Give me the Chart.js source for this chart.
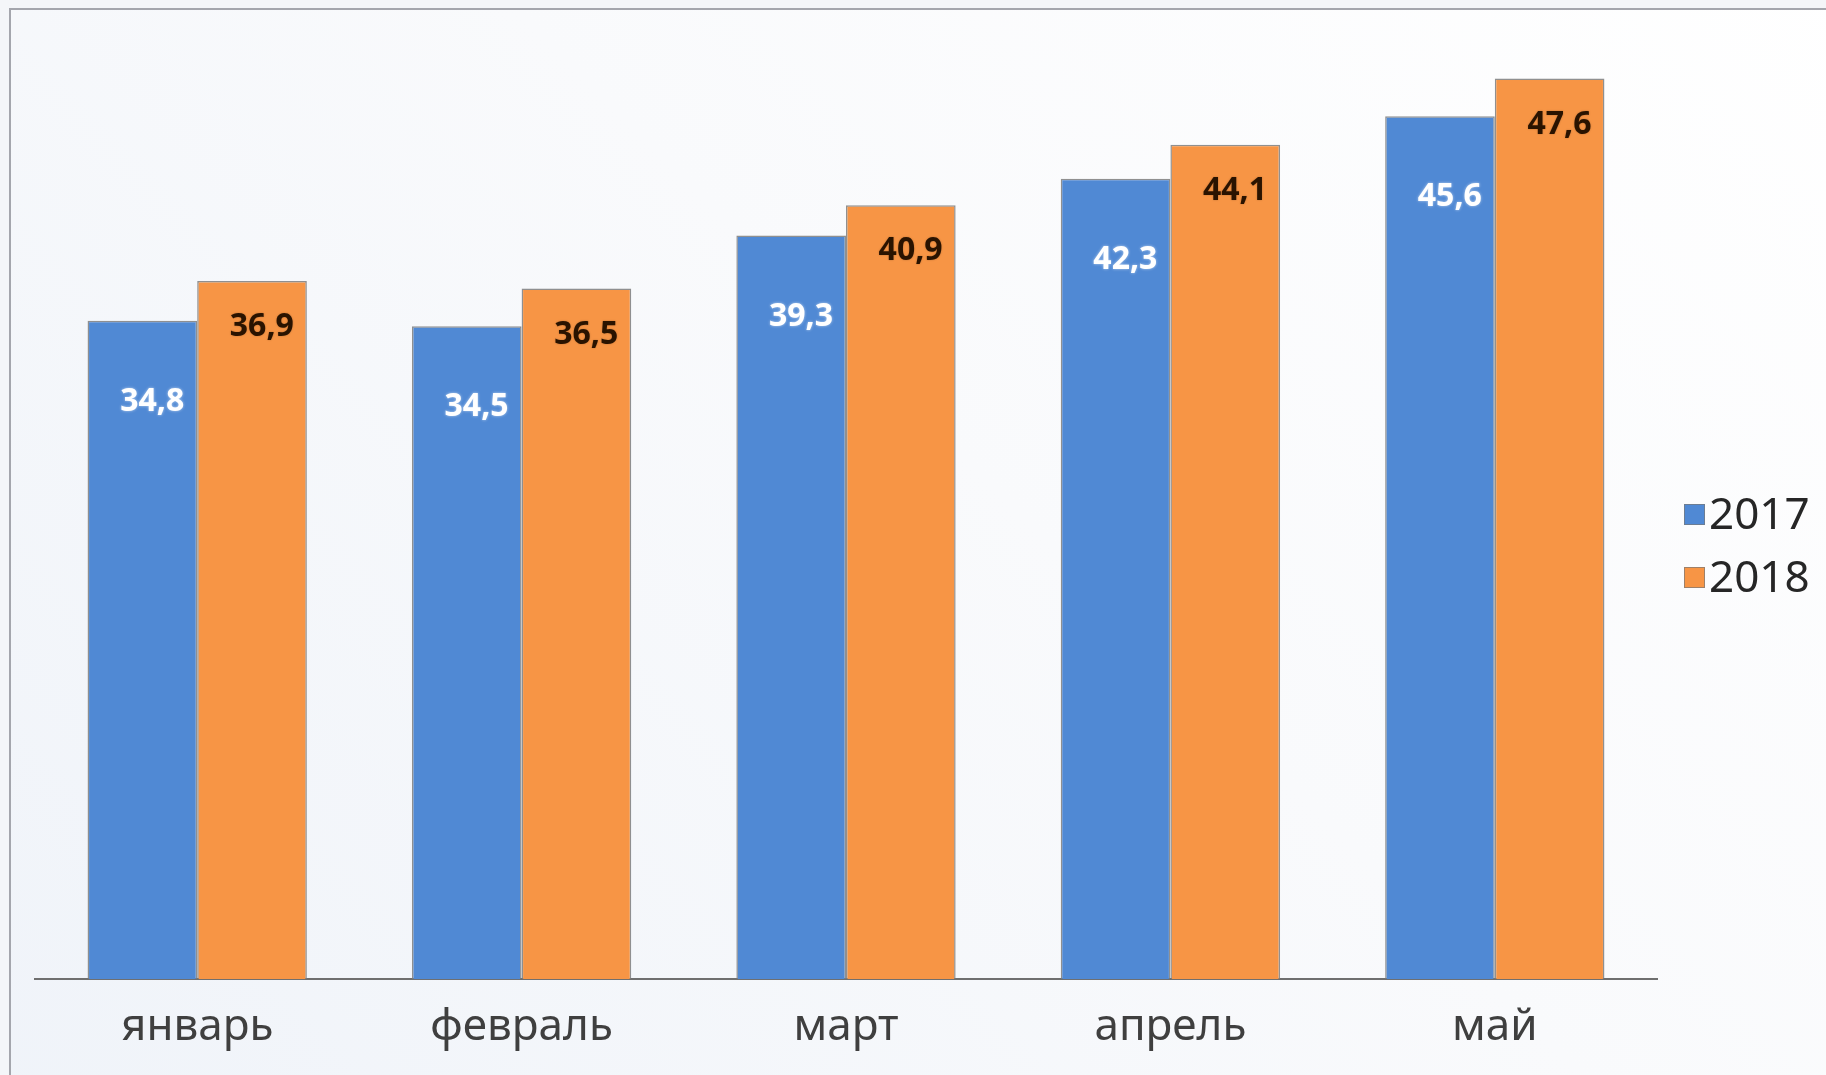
<!DOCTYPE html>
<html>
<head>
<meta charset="utf-8">
<script src="https://cdn.jsdelivr.net/npm/chart.js@4/dist/chart.umd.min.js"></script>
<style>
  html, body { margin: 0; padding: 0; background: #f4f6f9; }
  #wrap { position: relative; width: 1826px; height: 1075px; overflow: hidden; }
  #frame {
    position: absolute; left: 9px; top: 8px; width: 1900px; height: 1200px;
    border-top: 2px solid #a4a6ad; border-left: 2px solid #a4a6ad;
    background: linear-gradient(225deg, #ffffff 0%, #f9fafc 45%, #eff3f9 100%);
  }
  canvas { position: absolute; left: 0; top: 0; }
</style>
</head>
<body>
<div id="wrap">
  <div id="frame"></div>
  <canvas id="chart" width="1826" height="1075"></canvas>
</div>
<script>
// data
const months = ['январь', 'февраль', 'март', 'апрель', 'май'];
const years = ['2017', '2018'];
const values2017 = [34.8, 34.5, 39.3, 42.3, 45.6];
const values2018 = [36.9, 36.5, 40.9, 44.1, 47.6];

const BLUE = '#5089d4';
const ORANGE = '#f79545';
const FONT = '"Noto Sans", "Open Sans", sans-serif';

function fmt(v) {
  return v.toFixed(1).replace('.', ',');
}

// value labels inside the bars, near the top right
const barLabels = {
  id: 'barLabels',
  afterDatasetsDraw(chart) {
    const ctx = chart.ctx;
    ctx.save();
    ctx.font = `bold 32px ${FONT}`;
    ctx.textAlign = 'right';
    ctx.textBaseline = 'middle';
    chart.data.datasets.forEach((ds, di) => {
      const meta = chart.getDatasetMeta(di);
      const drop = di === 0 ? 81 : 46;
      meta.data.forEach((bar, i) => {
        const x = bar.x + bar.width / 2 - 13;
        const y = bar.y + drop;
        if (di === 0) {
          ctx.shadowColor = 'rgba(255,255,255,0.6)';
          ctx.shadowBlur = 3;
          ctx.fillStyle = '#ffffff';
        } else {
          ctx.shadowColor = 'rgba(0,0,0,0.25)';
          ctx.shadowBlur = 2;
          ctx.fillStyle = '#2a1300';
        }
        ctx.fillText(fmt(ds.data[i]), x, y);
      });
    });
    ctx.restore();
  },
};

// compact legend on the right, square markers close to the text
const sideLegend = {
  id: 'sideLegend',
  afterDraw(chart) {
    const ctx = chart.ctx;
    ctx.save();
    ctx.font = `44px ${FONT}`;
    ctx.textBaseline = 'middle';
    ctx.textAlign = 'left';
    chart.data.datasets.forEach((ds, i) => {
      const cy = 514 + i * 63;
      ctx.fillStyle = ds.backgroundColor;
      ctx.strokeStyle = 'rgba(120,120,120,0.7)';
      ctx.lineWidth = 1;
      ctx.fillRect(1684, cy - 10, 21, 21);
      ctx.strokeRect(1684.5, cy - 9.5, 20, 20);
      ctx.fillStyle = '#262626';
      ctx.fillText(ds.label, 1709, cy + 2);
    });
    ctx.restore();
  },
};

new Chart(document.getElementById('chart'), {
  type: 'bar',
  data: {
    labels: months,
    datasets: [
      {
        label: years[0],
        data: values2017,
        backgroundColor: BLUE,
        borderColor: 'rgba(125,125,125,0.85)',
        borderWidth: 1.5,
        categoryPercentage: 0.676,
        barPercentage: 1,
      },
      {
        label: years[1],
        data: values2018,
        backgroundColor: ORANGE,
        borderColor: 'rgba(125,125,125,0.85)',
        borderWidth: 1.5,
        categoryPercentage: 0.676,
        barPercentage: 1,
      },
    ],
  },
  options: {
    responsive: false,
    animation: false,
    layout: { padding: { left: 35, right: 169, top: 33, bottom: 7 } },
    plugins: {
      legend: { display: false },
      tooltip: { enabled: false },
    },
    scales: {
      x: {
        grid: { display: false },
        border: { display: true, color: '#6f6f6f', width: 2 },
        ticks: {
          padding: 14,
          color: '#3f3f3f',
          font: { family: FONT, size: 44 },
        },
      },
      y: {
        display: false,
        min: 0,
        max: 50,
      },
    },
  },
  plugins: [barLabels, sideLegend],
});
</script>
</body>
</html>
